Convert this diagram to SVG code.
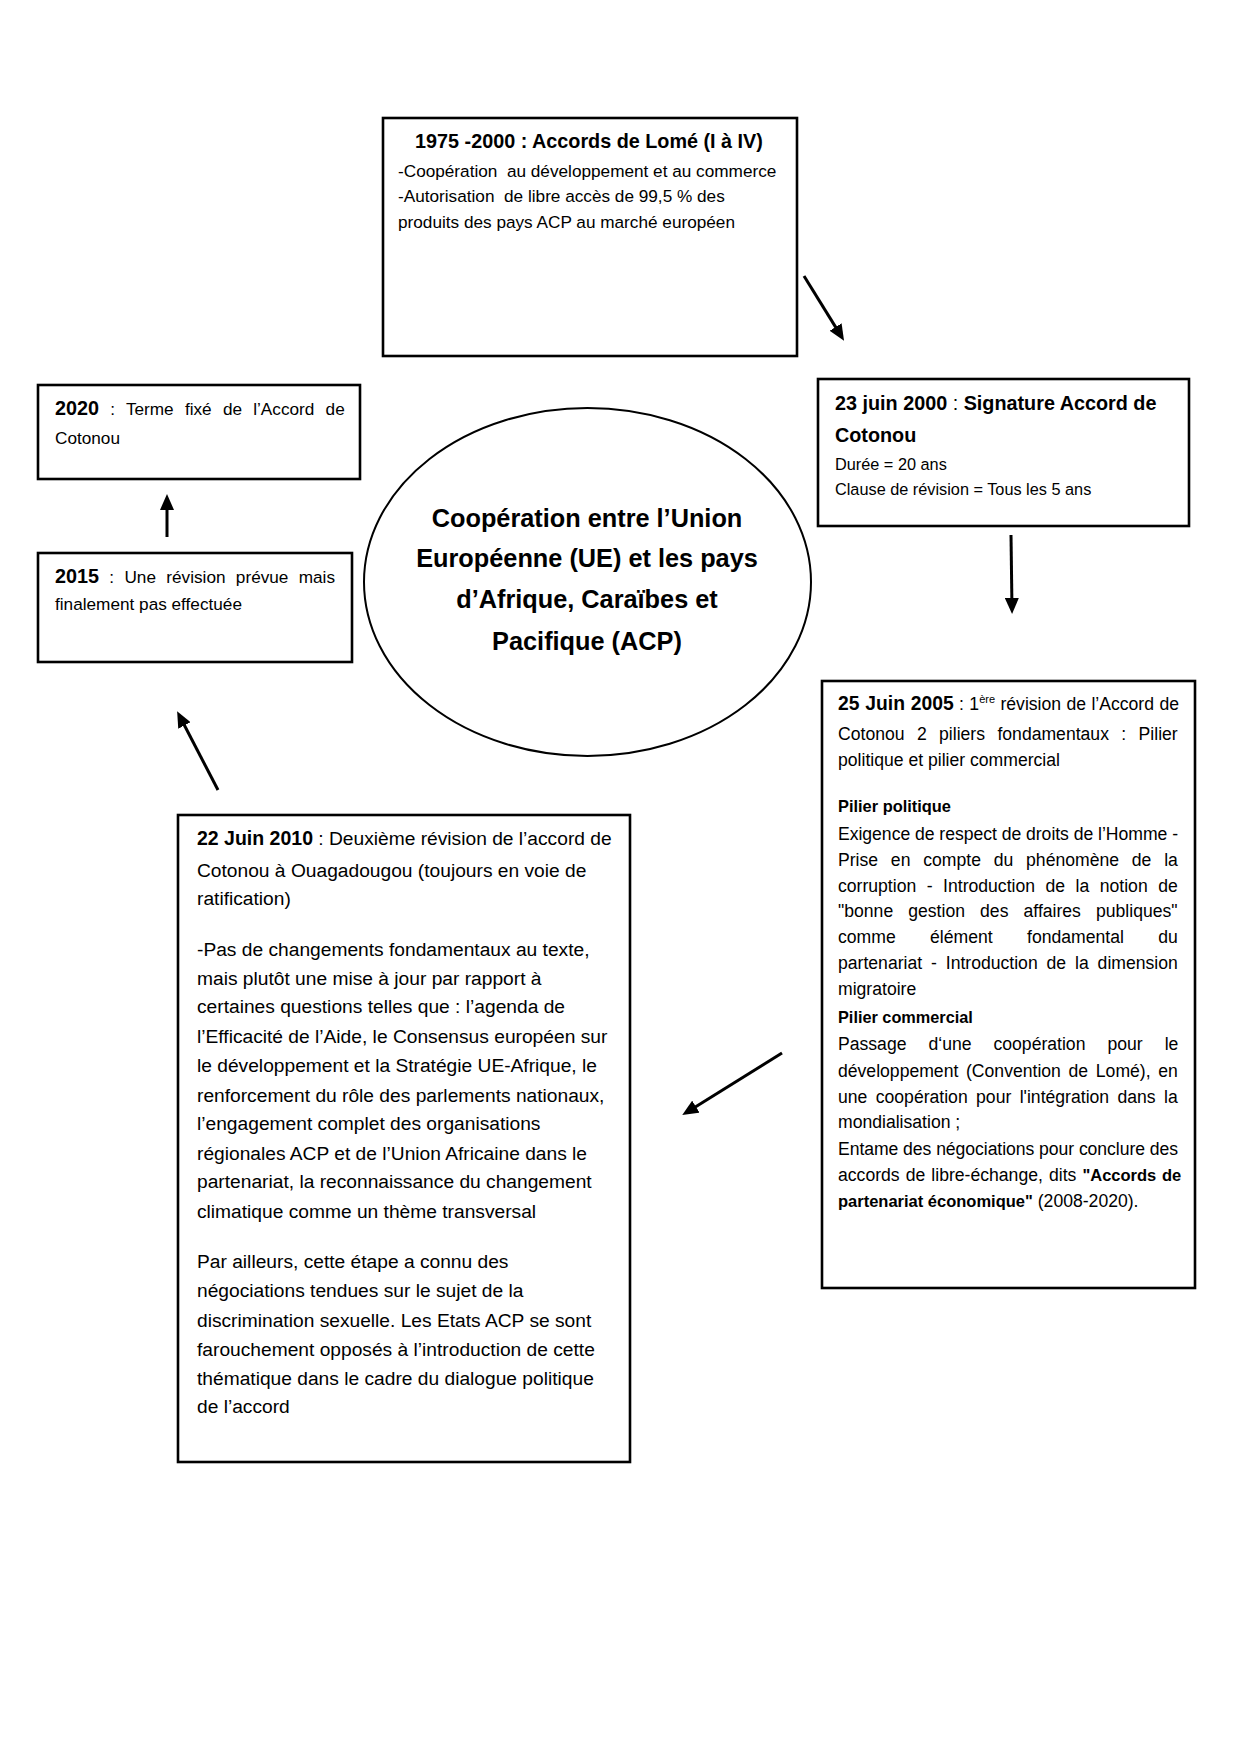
<svg xmlns="http://www.w3.org/2000/svg" width="1240" height="1754" viewBox="0 0 1240 1754">
<style>
.box{fill:#fff;stroke:#000;stroke-width:2.6}
.t{font-family:"Liberation Sans",Arial,sans-serif;fill:#000}
.b{font-weight:bold}
.c{stroke:#000;stroke-width:3;fill:none}
</style>
<defs>
<marker id="ah" markerUnits="userSpaceOnUse" markerWidth="16" markerHeight="14" refX="3" refY="7" orient="auto">
<path d="M0,0 L16,7 L0,14 z" fill="#000"/>
</marker>
</defs>
<rect width="1240" height="1754" fill="#fff"/>

<g id="node-lome">
<rect class="box" x="383" y="118" width="414" height="238"/>
<text class="t b" x="589" y="148" font-size="19.8" text-anchor="middle">1975 -2000 : Accords de Lomé (I à IV)</text>
<text class="t" x="398" y="177" font-size="17.2" xml:space="preserve">-Coopération  au développement et au commerce</text>
<text class="t" x="398" y="202" font-size="17.2" xml:space="preserve">-Autorisation  de libre accès de 99,5 % des</text>
<text class="t" x="398" y="228" font-size="17.2">produits des pays ACP au marché européen</text>
</g>

<g id="node-2000">
<rect class="box" x="818" y="379" width="371" height="147"/>
<text class="t" x="835" y="410" font-size="19.8"><tspan class="b">23 juin 2000</tspan> : <tspan class="b">Signature Accord de</tspan></text>
<text class="t b" x="835" y="442" font-size="19.8">Cotonou</text>
<text class="t" x="835" y="470" font-size="16.3">Durée = 20 ans</text>
<text class="t" x="835" y="495" font-size="16.3">Clause de révision = Tous les 5 ans</text>
</g>

<g id="node-2020">
<rect class="box" x="38" y="385" width="322" height="94"/>
<text class="t" x="55" y="415" font-size="17.2" word-spacing="6.45"><tspan class="b" font-size="19.8">2020</tspan> : Terme fixé de l’Accord de</text>
<text class="t" x="55" y="444" font-size="17.2">Cotonou</text>
</g>

<g id="node-2015">
<rect class="box" x="38" y="553" width="314" height="109"/>
<text class="t" x="55" y="583" font-size="17.2" word-spacing="5.55"><tspan class="b" font-size="19.8">2015</tspan> : Une révision prévue mais</text>
<text class="t" x="55" y="610" font-size="17.2">finalement pas effectuée</text>
</g>

<g id="node-center">
<ellipse cx="587.5" cy="582" rx="223.5" ry="174" fill="#fff" stroke="#000" stroke-width="2"/>
<text class="t b" x="587" y="527" font-size="25.3" text-anchor="middle">Coopération entre l’Union</text>
<text class="t b" x="587" y="567" font-size="25.3" text-anchor="middle">Européenne (UE) et les pays</text>
<text class="t b" x="587" y="608" font-size="25.3" text-anchor="middle">d’Afrique, Caraïbes et</text>
<text class="t b" x="587" y="650" font-size="25.3" text-anchor="middle">Pacifique (ACP)</text>
</g>

<g id="node-2005">
<rect class="box" x="822" y="681" width="373" height="607"/>
<text class="t" x="838" y="710" font-size="17.6" word-spacing="0.5"><tspan class="b" font-size="19.3">25 Juin 2005</tspan> : 1<tspan font-size="11" dy="-7">ère</tspan><tspan dy="7"> révision de l’Accord de</tspan></text>
<text class="t" x="838" y="740" font-size="17.6" word-spacing="7.5">Cotonou 2 piliers fondamentaux : Pilier</text>
<text class="t" x="838" y="766" font-size="17.6">politique et pilier commercial</text>
<text class="t b" x="838" y="812" font-size="16.4">Pilier politique</text>
<text class="t" x="838" y="840" font-size="17.6" textLength="340" lengthAdjust="spacing">Exigence de respect de droits de l’Homme -</text>
<text class="t" x="838" y="866" font-size="17.6" word-spacing="7.9">Prise en compte du phénomène de la</text>
<text class="t" x="838" y="892" font-size="17.6" word-spacing="5.6">corruption - Introduction de la notion de</text>
<text class="t" x="838" y="917" font-size="17.6" word-spacing="10.2">"bonne gestion des affaires publiques"</text>
<text class="t" x="838" y="943" font-size="17.6" word-spacing="29.5">comme élément fondamental du</text>
<text class="t" x="838" y="969" font-size="17.6" word-spacing="4">partenariat - Introduction de la dimension</text>
<text class="t" x="838" y="995" font-size="17.6">migratoire</text>
<text class="t b" x="838" y="1023" font-size="16.3">Pilier commercial</text>
<text class="t" x="838" y="1050" font-size="17.6" word-spacing="17.1">Passage d‘une coopération pour le</text>
<text class="t" x="838" y="1077" font-size="17.6" word-spacing="2.8">développement (Convention de Lomé), en</text>
<text class="t" x="838" y="1103" font-size="17.6" word-spacing="3.5">une coopération pour l'intégration dans la</text>
<text class="t" x="838" y="1128" font-size="17.6">mondialisation ;</text>
<text class="t" x="838" y="1155" font-size="17.6" textLength="340" lengthAdjust="spacing">Entame des négociations pour conclure des</text>
<text class="t" x="838" y="1181" font-size="17.6" word-spacing="1.2">accords de libre-échange, dits <tspan class="b" font-size="16.5">"Accords de</tspan></text>
<text class="t" x="838" y="1207" font-size="17.6"><tspan class="b" font-size="16.5">partenariat économique"</tspan> (2008-2020).</text>
</g>

<g id="node-2010">
<rect class="box" x="178" y="815" width="452" height="647"/>
<text class="t" x="197" y="845" font-size="19.2"><tspan class="b" font-size="19.5">22 Juin 2010</tspan> : Deuxième révision de l’accord de</text>
<text class="t" x="197" y="877" font-size="19.2">Cotonou à Ouagadougou (toujours en voie de</text>
<text class="t" x="197" y="905" font-size="19.2">ratification)</text>
<text class="t" x="197" y="956" font-size="19.2">-Pas de changements fondamentaux au texte,</text>
<text class="t" x="197" y="985" font-size="19.2">mais plutôt une mise à jour par rapport à</text>
<text class="t" x="197" y="1013" font-size="19.2">certaines questions telles que : l’agenda de</text>
<text class="t" x="197" y="1043" font-size="19.2">l’Efficacité de l’Aide, le Consensus européen sur</text>
<text class="t" x="197" y="1072" font-size="19.2">le développement et la Stratégie UE-Afrique, le</text>
<text class="t" x="197" y="1102" font-size="19.2">renforcement du rôle des parlements nationaux,</text>
<text class="t" x="197" y="1130" font-size="19.2">l’engagement complet des organisations</text>
<text class="t" x="197" y="1160" font-size="19.2">régionales ACP et de l’Union Africaine dans le</text>
<text class="t" x="197" y="1188" font-size="19.2">partenariat, la reconnaissance du changement</text>
<text class="t" x="197" y="1218" font-size="19.2">climatique comme un thème transversal</text>
<text class="t" x="197" y="1268" font-size="19.2">Par ailleurs, cette étape a connu des</text>
<text class="t" x="197" y="1297" font-size="19.2">négociations tendues sur le sujet de la</text>
<text class="t" x="197" y="1327" font-size="19.2">discrimination sexuelle. Les Etats ACP se sont</text>
<text class="t" x="197" y="1356" font-size="19.2">farouchement opposés à l’introduction de cette</text>
<text class="t" x="197" y="1385" font-size="19.2">thématique dans le cadre du dialogue politique</text>
<text class="t" x="197" y="1413" font-size="19.2">de l’accord</text>
</g>

<g id="connectors">
<line class="c" x1="804" y1="276" x2="837.2" y2="329.6" marker-end="url(#ah)"/>
<line class="c" x1="1011" y1="535" x2="1011.9" y2="601" marker-end="url(#ah)"/>
<line class="c" x1="782" y1="1053" x2="693.3" y2="1108.2" marker-end="url(#ah)"/>
<line class="c" x1="218" y1="790" x2="183.1" y2="722.8" marker-end="url(#ah)"/>
<line class="c" x1="167" y1="537" x2="167" y2="507" marker-end="url(#ah)"/>
</g>
</svg>
